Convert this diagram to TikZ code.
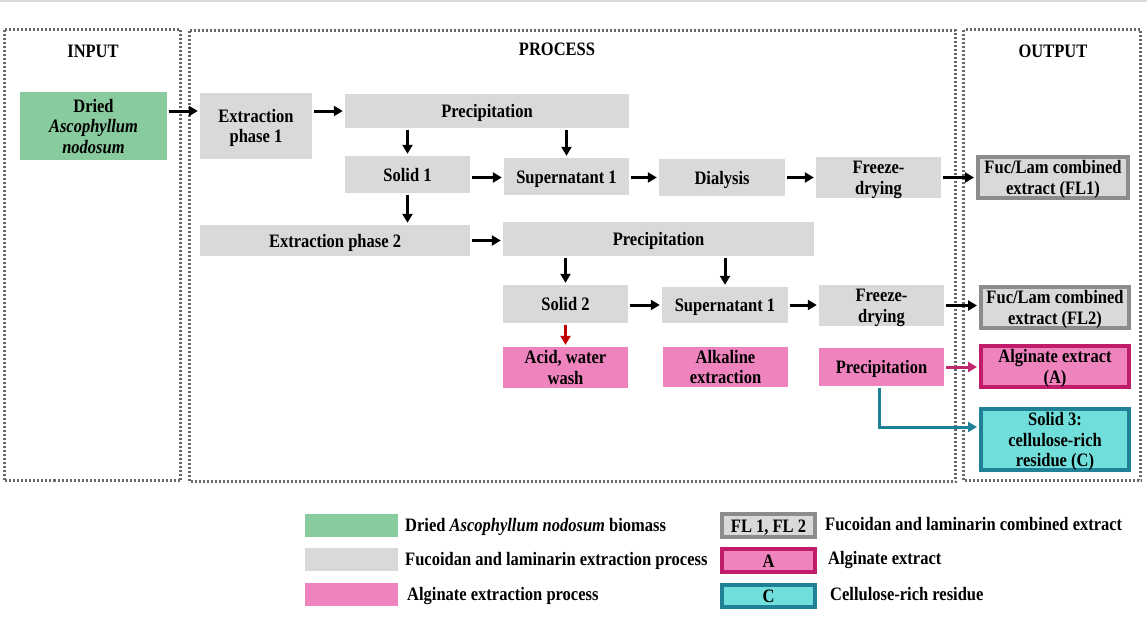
\documentclass[tikz,border=0pt]{standalone}
\usepackage{fontspec}
\setmainfont{Liberation Serif}
\usepackage{graphicx}
\usetikzlibrary{arrows.meta}
\definecolor{gfill}{RGB}{217,217,217}
\definecolor{cgreen}{RGB}{135,203,158}
\definecolor{cpink}{RGB}{239,131,189}
\definecolor{ccrim}{RGB}{192,28,106}
\definecolor{ctealf}{RGB}{112,222,218}
\definecolor{ctealb}{RGB}{32,128,150}
\definecolor{cgrayb}{RGB}{140,140,140}
\definecolor{cred}{RGB}{192,0,0}
\definecolor{cpinka}{RGB}{192,40,110}
\definecolor{cpanel}{RGB}{105,105,105}
\newcommand{\tx}[1]{\raisebox{-2.5pt}[\height][\depth]{\scalebox{1}[1.15]{\begin{tabular}{@{}c@{}}#1\end{tabular}}}}
\begin{document}
\begin{tikzpicture}[x=1pt,y=-1pt,
  font=\fontsize{16.5}{17.8}\selectfont\bfseries,
  pbox/.style={rectangle, inner sep=0pt, align=center},
  gbox/.style={pbox, fill=gfill},
  kbox/.style={pbox, fill=cpink},
  obox/.style={pbox, line width=4pt},
  panel/.style={draw=cpanel, line width=2.5pt, dash pattern=on 2pt off 2pt},
  arr/.style={-{Triangle[length=9pt,width=10pt]}, line width=3pt, shorten <=1.5pt, shorten >=2pt},
  lab/.style={inner sep=0pt}
]
\useasboundingbox (0,0) rectangle (1147,627);
\draw[line width=1.5pt, draw=gfill] (0,1) -- (1147,1);

% panels
\draw[panel] (4.5,29.5) rectangle (180.5,480.5);
\draw[panel] (189.5,30.5) rectangle (955.5,481.5);
\draw[panel] (963.5,29.5) rectangle (1140.5,480.5);
\node[lab] (tin) at (93,51) {\tx{INPUT}};
\node[lab] (tpr) at (557,49) {\tx{PROCESS}};
\node[lab] (tout) at (1053,51) {\tx{OUTPUT}};

% nodes
\node[pbox, fill=cgreen, minimum width=147pt, minimum height=68pt] (dried) at (93.5,126) {\tx{Dried\\\textit{Ascophyllum}\\\textit{nodosum}}};
\node[gbox, minimum width=112pt, minimum height=66pt] (ext1) at (256,126) {\tx{Extraction\\phase 1}};
\node[gbox, minimum width=284pt, minimum height=34pt] (prec1) at (487,111) {\tx{Precipitation}};
\node[gbox, minimum width=125pt, minimum height=37pt] (solid1) at (407.5,174.5) {\tx{Solid 1}};
\node[gbox, minimum width=125pt, minimum height=37pt] (sup1) at (566.5,176.5) {\tx{Supernatant 1}};
\node[gbox, minimum width=126pt, minimum height=37pt] (dial) at (722,177.5) {\tx{Dialysis}};
\node[gbox, minimum width=125pt, minimum height=37pt] (fd1) at (878.5,177.5) {\tx{Freeze-\\drying}};
\node[obox, draw=cgrayb, fill=gfill, minimum width=150pt, minimum height=35pt] (fl1) at (1053,177.5) {\tx{Fuc/Lam combined\\extract (FL1)}};

\node[gbox, minimum width=270pt, minimum height=31pt] (ext2) at (335,240.5) {\tx{Extraction phase 2}};
\node[gbox, minimum width=311pt, minimum height=34pt] (prec2) at (658.5,239) {\tx{Precipitation}};
\node[gbox, minimum width=125pt, minimum height=38pt] (solid2) at (565.5,304) {\tx{Solid 2}};
\node[gbox, minimum width=126pt, minimum height=36pt] (sup2) at (725,305) {\tx{Supernatant 1}};
\node[gbox, minimum width=125pt, minimum height=37pt] (fd2) at (881.5,305.5) {\tx{Freeze-\\drying}};
\node[obox, draw=cgrayb, fill=gfill, minimum width=148pt, minimum height=37pt] (fl2) at (1055,307.5) {\tx{Fuc/Lam combined\\extract (FL2)}};

\node[kbox, minimum width=125pt, minimum height=39pt] (acid) at (565.5,367.5) {\tx{Acid, water\\wash}};
\node[kbox, minimum width=125pt, minimum height=38pt] (alk) at (725.5,367) {\tx{Alkaline\\extraction}};
\node[kbox, minimum width=125pt, minimum height=38pt] (prec3) at (881.5,367) {\tx{Precipitation}};
\node[obox, draw=ccrim, fill=cpink, minimum width=148pt, minimum height=37pt] (alg) at (1055,366.5) {\tx{Alginate extract\\(A)}};
\node[obox, draw=ctealb, fill=ctealf, minimum width=148pt, minimum height=61pt] (sol3) at (1055,439.5) {\tx{Solid 3:\\cellulose-rich\\residue (C)}};

% connectors
\draw[arr] (dried.east |- prec1) -- (ext1.west |- prec1);
\draw[arr] (ext1.east |- prec1) -- (prec1.west);
\draw[arr] (prec1.south -| solid1) -- (solid1.north);
\draw[arr] (prec1.south -| sup1) -- (sup1.north);
\draw[arr] (solid1.east |- dial) -- (sup1.west |- dial);
\draw[arr] (sup1.east |- dial) -- (dial.west);
\draw[arr] (dial.east) -- (fd1.west);
\draw[arr] (fd1.east) -- (fl1.west |- fd1);
\draw[arr] (solid1.south) -- (ext2.north -| solid1);
\draw[arr] (ext2.east) -- (prec2.west |- ext2);
\draw[arr] (prec2.south -| solid2) -- (solid2.north);
\draw[arr] (prec2.south -| sup2) -- (sup2.north);
\draw[arr] (solid2.east |- sup2) -- (sup2.west);
\draw[arr] (sup2.east) -- (fd2.west |- sup2);
\draw[arr] (fd2.east) -- (fl2.west |- fd2);
\draw[arr, cred] (solid2.south) -- (acid.north);
\draw[arr, cpinka] (prec3.east) -- (alg.west |- prec3);
\coordinate (c3) at ([yshift=12.5pt]sol3.west);
\draw[arr, ctealb] ([xshift=-2.5pt]prec3.south) |- (c3);

% legend
\node[pbox, fill=cgreen, minimum width=93pt, minimum height=23pt] (lg1) at (351.5,525.5) {};
\node[pbox, fill=gfill, minimum width=93pt, minimum height=23pt] (lg2) at (351.5,559.5) {};
\node[pbox, fill=cpink, minimum width=93pt, minimum height=23pt] (lg3) at (351.5,594.5) {};
\node[lab, anchor=west] (lt1) at (405,525) {\tx{Dried \textit{Ascophyllum nodosum} biomass}};
\node[lab, anchor=west] (lt2) at (405,559) {\tx{Fucoidan and laminarin extraction process}};
\node[lab, anchor=west] (lt3) at (407,594) {\tx{Alginate extraction process}};
\node[obox, draw=cgrayb, fill=gfill, minimum width=93pt, minimum height=23pt] (lb1) at (768.5,525.5) {\tx{FL 1, FL 2}};
\node[obox, draw=ccrim, fill=cpink, minimum width=93pt, minimum height=23pt] (lb2) at (768.5,560.5) {\tx{A}};
\node[obox, draw=ctealb, fill=ctealf, minimum width=93pt, minimum height=22pt] (lb3) at (768.5,596) {\tx{C}};
\node[lab, anchor=west] (lt4) at (825,524) {\tx{Fucoidan and laminarin combined extract}};
\node[lab, anchor=west] (lt5) at (828,558) {\tx{Alginate extract}};
\node[lab, anchor=west] (lt6) at (830,594) {\tx{Cellulose-rich residue}};
\end{tikzpicture}
\end{document}
